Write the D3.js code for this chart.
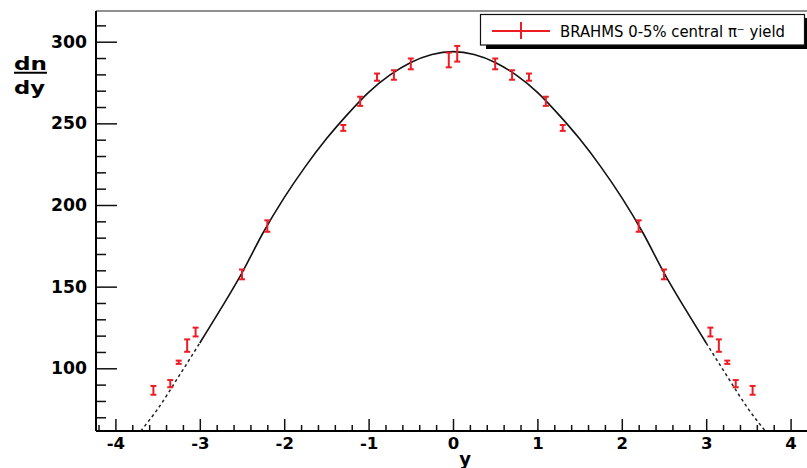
<!DOCTYPE html>
<html><head><meta charset="utf-8">
<script src="https://cdn.jsdelivr.net/npm/d3@7"></script>
<style>body{margin:0;background:#fff}svg{display:block}</style>
</head><body><svg id="c" width="807" height="468"></svg>
<script>
// ---- data ----
const rapidity = [-3.55,-3.35,-3.25,-3.15,-3.05,-2.5,-2.2,-1.3,-1.1,-0.9,-0.7,-0.5,-0.05,0.05,0.5,0.7,0.9,1.1,1.3,2.2,2.5,3.05,3.15,3.25,3.35,3.55];
const yieldVals = [86.5,90.6,103.7,113.9,122.2,157.5,187.1,247.2,263.5,278.3,279.6,286.4,288.8,292.6,286.4,279.6,278.3,263.5,247.2,187.1,157.5,122.2,113.9,103.7,90.6,86.5];
const yieldErr = [2.7,2.2,1.0,3.8,2.7,3.0,3.5,1.8,2.8,2.2,2.9,3.3,4.5,4.8,3.3,2.9,2.2,2.8,1.8,3.5,3.0,2.7,3.8,1.0,2.2,2.7];
const fitY = [-3.7,-3.5,-3.25,-3,-2.75,-2.5,-2.25,-2,-1.75,-1.5,-1.25,-1,-0.75,-0.5,-0.25,0,0.25,0.5,0.75,1,1.25,1.5,1.75,2,2.25,2.5,2.75,3,3.25,3.5,3.7];
const fitV = [61.6,75,95,115.5,136.5,158.5,183,204.5,223.5,240.5,255.5,269,279.5,287.3,292.2,293.9,292.2,287.3,279.5,269,255.5,240.5,223.5,204.5,183,158.5,136.5,115.5,95,75,61.6];
const fitRange = 3.0;
const xTickVals = [-4,-3,-2,-1,0,1,2,3,4];
const yTickVals = [100,150,200,250,300];
const legendLabel = "BRAHMS 0-5% central \u03c0\u207b yield";

const svg = d3.select("#c");
const W = 807, H = 468;
const x = d3.scaleLinear().domain([-4.23, 4.23]).range([96, 810]);
const y = d3.scaleLinear().domain([61.6, 318.8]).range([431, 11]);
const red = "#ec1c24";
const FONT = "'DejaVu Sans', sans-serif";

svg.append("rect").attr("width", W).attr("height", H).attr("fill", "#fff");

svg.append("defs").append("clipPath").attr("id", "plot")
  .append("rect").attr("x", 96).attr("y", 11).attr("width", W - 96).attr("height", 420);

// frame top
svg.append("line").attr("x1", 96).attr("x2", W).attr("y1", 11).attr("y2", 11)
  .attr("stroke", "#222").attr("stroke-width", 1.2);

// ---- axes ----
const xMinor = d3.range(-21, 22).map(i => i / 5).filter(v => Math.abs(v - Math.round(v)) > 1e-6);
const yMinor = d3.range(70, 320, 10).filter(v => v % 50 !== 0);

const gxm = svg.append("g").attr("transform", "translate(0,431)")
  .call(d3.axisBottom(x).tickValues(xMinor).tickSize(-6).tickSizeOuter(0).tickFormat(""));
const gx = svg.append("g").attr("transform", "translate(0,431)")
  .call(d3.axisBottom(x).tickValues(xTickVals).tickSize(-12).tickSizeOuter(0).tickPadding(6).tickFormat(d => String(d)));
const gym = svg.append("g").attr("transform", "translate(96,0)")
  .call(d3.axisLeft(y).tickValues(yMinor).tickSize(-10).tickSizeOuter(0).tickFormat(""));
const gy = svg.append("g").attr("transform", "translate(96,0)")
  .call(d3.axisLeft(y).tickValues(yTickVals).tickSize(-21).tickSizeOuter(0).tickPadding(9).tickFormat(d => String(d)));

[gxm, gx, gym, gy].forEach(g => {
  g.selectAll(".domain").remove();
  g.selectAll(".tick line").attr("stroke", "#111").attr("stroke-width", 1.5);
});
gx.selectAll("text").attr("font-family", FONT).attr("font-weight", "bold").attr("font-size", 16.5).attr("fill", "#000");
gy.selectAll("text").attr("font-family", FONT).attr("font-weight", "bold").attr("font-size", 17).attr("fill", "#000")
  .attr("textLength", 36).attr("lengthAdjust", "spacingAndGlyphs");

// axis lines
svg.append("line").attr("x1", 96).attr("x2", W).attr("y1", 431).attr("y2", 431).attr("stroke", "#000").attr("stroke-width", 2);
svg.append("line").attr("x1", 96).attr("x2", 96).attr("y1", 11).attr("y2", 431).attr("stroke", "#000").attr("stroke-width", 2);

// axis titles
svg.append("text").attr("x", 465).attr("y", 465).attr("text-anchor", "middle")
  .attr("font-family", FONT).attr("font-weight", "bold").attr("font-size", 18).text("y");
svg.append("text").attr("x", 14).attr("y", 69.5)
  .attr("font-family", FONT).attr("font-weight", "bold").attr("font-size", 17.5)
  .attr("textLength", 33).attr("lengthAdjust", "spacingAndGlyphs").text("dn");
svg.append("line").attr("x1", 14).attr("x2", 47).attr("y1", 72.8).attr("y2", 72.8).attr("stroke", "#000").attr("stroke-width", 2);
svg.append("text").attr("x", 14).attr("y", 93.5)
  .attr("font-family", FONT).attr("font-weight", "bold").attr("font-size", 17.5)
  .attr("textLength", 31).attr("lengthAdjust", "spacingAndGlyphs").text("dy");

// ---- fit curve ----
const pts = fitY.map((v, i) => [v, fitV[i]]);
const line = d3.line().x(d => x(d[0])).y(d => y(d[1])).curve(d3.curveMonotoneX);
const gc = svg.append("g").attr("clip-path", "url(#plot)");
gc.append("path").datum(pts.filter(d => Math.abs(d[0]) <= fitRange + 1e-9))
  .attr("d", line).attr("fill", "none").attr("stroke", "#111").attr("stroke-width", 1.6);
gc.append("path").datum(pts.filter(d => d[0] <= -fitRange + 1e-9))
  .attr("d", line).attr("fill", "none").attr("stroke", "#222").attr("stroke-width", 1.5).attr("stroke-dasharray", "3,3");
gc.append("path").datum(pts.filter(d => d[0] >= fitRange - 1e-9))
  .attr("d", line).attr("fill", "none").attr("stroke", "#222").attr("stroke-width", 1.5).attr("stroke-dasharray", "3,3");

// ---- data error bars ----
const data = rapidity.map((r, i) => ({r, v: yieldVals[i], e: yieldErr[i]}));
const gp = svg.append("g").attr("stroke", red).attr("stroke-width", 2);
const pt = gp.selectAll("g").data(data).join("g");
pt.append("line").attr("x1", d => x(d.r)).attr("x2", d => x(d.r))
  .attr("y1", d => y(d.v - d.e)).attr("y2", d => y(d.v + d.e));
pt.append("line").attr("x1", d => x(d.r) - 3).attr("x2", d => x(d.r) + 3)
  .attr("y1", d => y(d.v - d.e)).attr("y2", d => y(d.v - d.e));
pt.append("line").attr("x1", d => x(d.r) - 3).attr("x2", d => x(d.r) + 3)
  .attr("y1", d => y(d.v + d.e)).attr("y2", d => y(d.v + d.e));

// ---- legend ----
const lg = svg.append("g");
lg.append("rect").attr("x", 486).attr("y", 18).attr("width", 325).attr("height", 31).attr("fill", "#000");
lg.append("rect").attr("x", 480.5).attr("y", 14.5).attr("width", 324).attr("height", 30.5)
  .attr("fill", "#fff").attr("stroke", "#111").attr("stroke-width", 1.2);
lg.append("line").attr("x1", 492).attr("x2", 550).attr("y1", 31).attr("y2", 31).attr("stroke", red).attr("stroke-width", 2);
lg.append("line").attr("x1", 521).attr("x2", 521).attr("y1", 22).attr("y2", 39).attr("stroke", red).attr("stroke-width", 2);
lg.append("text").attr("x", 560).attr("y", 37).attr("font-family", FONT).attr("font-size", 15)
  .attr("textLength", 225).attr("lengthAdjust", "spacingAndGlyphs").attr("fill", "#000").text(legendLabel);
</script></body></html>
